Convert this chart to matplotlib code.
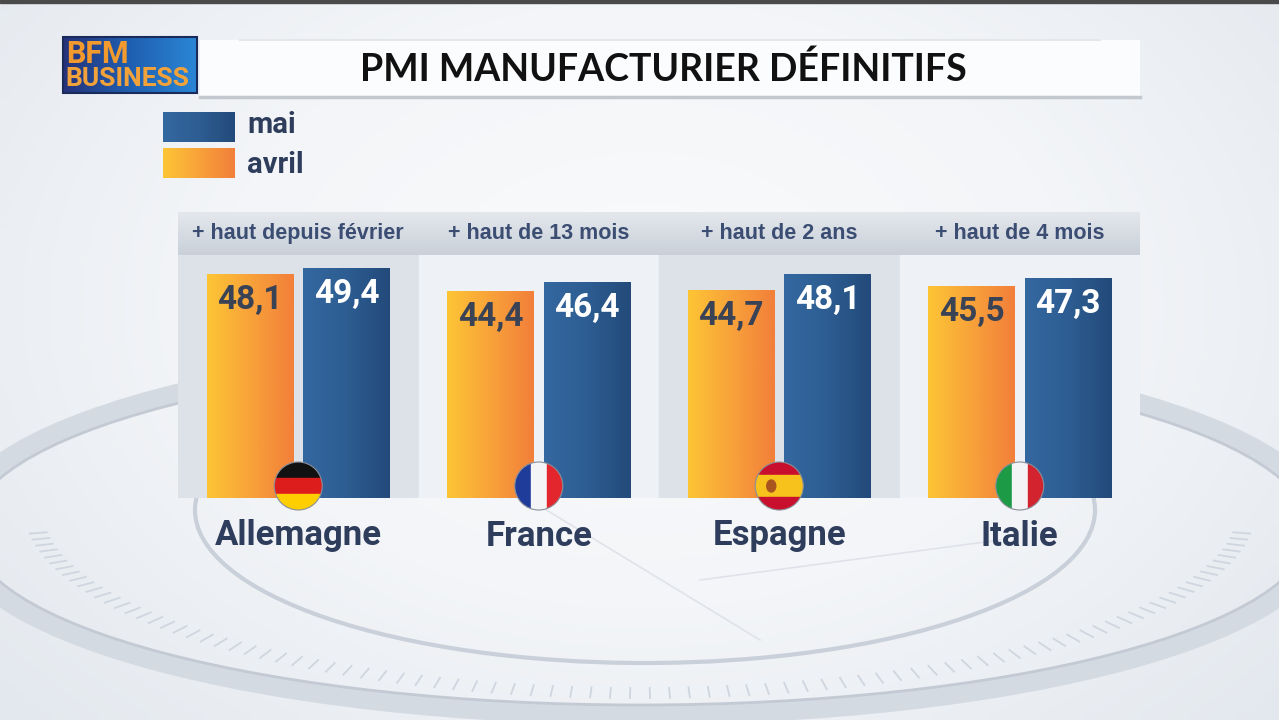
import numpy as np
import matplotlib.pyplot as plt
from matplotlib.patches import Rectangle, Circle, Ellipse
from matplotlib.colors import LinearSegmentedColormap

# donnees PMI manufacturier (avril / mai)
pays = ["Allemagne", "France", "Espagne", "Italie"]
avril = [48.1, 44.4, 44.7, 45.5]
mai = [49.4, 46.4, 48.1, 47.3]
avril_txt = ["48,1", "44,4", "44,7", "45,5"]
mai_txt = ["49,4", "46,4", "48,1", "47,3"]
commentaires = ["+ haut depuis février", "+ haut de 13 mois",
                "+ haut de 2 ans", "+ haut de 4 mois"]
flags = ["de", "fr", "es", "it"]

COND = ["Roboto", "DejaVu Sans"]
NAVY = "#2f3d5c"
PX = 4.66  # pixels par point d'indice

orange_cm = LinearSegmentedColormap.from_list("or", ["#fdc535", "#f8a23a", "#f27f3a"])
bleu_cm = LinearSegmentedColormap.from_list("bl", ["#3468a0", "#2d5d92", "#234a7a"])
grad = np.linspace(0, 1, 256).reshape(1, -1)

fig = plt.figure(figsize=(12.79, 7.2), dpi=100)

# fond en coordonnees pixels
bg = fig.add_axes([0, 0, 1, 1], zorder=0)
bg.set_xlim(0, 1279)
bg.set_ylim(720, 0)
bg.axis("off")
yy, xx = np.mgrid[0:72, 0:128]
rad = np.hypot((xx - 64) / 64, (yy - 30) / 45)
bg.imshow(rad, cmap=LinearSegmentedColormap.from_list("f", ["#fafbfc", "#f3f5f8", "#e3e8ee"]),
          extent=(0, 1279, 720, 0), aspect="auto", interpolation="bilinear")
bg.add_patch(Rectangle((0, 0), 1279, 3, color="#4a4a4a"))

# cadran decoratif
bg.add_patch(Ellipse((640, 530), 1370, 370, fill=False, lw=14, ec="#d4dae2"))
bg.add_patch(Ellipse((640, 530), 1340, 350, fill=False, lw=2, ec="#c3cad4"))
bg.add_patch(Ellipse((645, 510), 900, 306, fill=False, lw=3, ec="#c9d0d9"))
for t in np.linspace(np.pi * 0.04, np.pi * 0.96, 90):
    x0, y0 = 640 + 615 * np.cos(t), 510 + 188 * np.sin(t)
    x1, y1 = 640 + 598 * np.cos(t), 510 + 178 * np.sin(t)
    bg.plot([x0, x1], [y0, y1], color="#d0d6df", lw=1.3)
bg.plot([530, 760], [500, 640], color="#dfe3e9", lw=1.2)
bg.plot([700, 1000], [580, 540], color="#dfe3e9", lw=1.2)

# bandeau titre
bg.add_patch(Rectangle((200, 40), 940, 56, color="#fbfcfd", ec="none"))
bg.plot([200, 1140], [97, 97], color="#c3c8cf", lw=2.5)
bg.plot([240, 1100], [40, 40], color="#e3e6ea", lw=1.5)
bg.text(663, 69, "PMI MANUFACTURIER DÉFINITIFS", ha="center", va="center",
        fontsize=27, fontweight="bold", family=["Lato", "DejaVu Sans"], color="#111111")

# logo
bg.imshow(grad, cmap=LinearSegmentedColormap.from_list("lg", ["#26327a", "#1f5fb0", "#2b86d6"]),
          extent=(63, 197, 93, 37), aspect="auto", zorder=2)
bg.add_patch(Rectangle((63, 37), 134, 56, fill=False, ec="#1a2a5a", lw=1.5, zorder=3))
bg.text(66, 54, "BFM", ha="left", va="center", fontsize=22, fontweight="bold",
        family=COND, color="#f29a2e", zorder=4)
bg.text(65, 79, "BUSINESS", ha="left", va="center", fontsize=19, fontweight="bold",
        family=COND, color="#f2a23a", zorder=4)

# legende
bg.imshow(grad, cmap=bleu_cm, extent=(163, 235, 142, 112), aspect="auto", zorder=2)
bg.imshow(grad, cmap=orange_cm, extent=(163, 235, 178, 148), aspect="auto", zorder=2)
bg.text(247, 125, "mai", ha="left", va="center", fontsize=21, fontweight="bold",
        family=COND, color=NAVY)
bg.text(247, 165, "avril", ha="left", va="center", fontsize=21, fontweight="bold",
        family=COND, color=NAVY)

# graphique
ax = fig.add_axes([178 / 1279, 1 - 498 / 720, 962 / 1279, 286 / 720], zorder=1)
ax.set_xlim(-0.5, 3.5)
ax.set_ylim(0, 286 / PX)
ax.axis("off")

haut_bande = 243 / PX
for i in range(4):
    c = "#dde2e9" if i % 2 == 0 else "#eef1f5"
    ax.add_patch(Rectangle((i - 0.5, 0), 1, haut_bande, color=c, zorder=0))
ax.imshow(np.linspace(0, 1, 64).reshape(-1, 1),
          cmap=LinearSegmentedColormap.from_list("h", ["#e4e8ed", "#c9d0d9"]),
          extent=(-0.5, 3.5, haut_bande, 286 / PX), aspect="auto", zorder=0.5)

x = np.arange(len(pays))
w = 0.36
b_av = ax.bar(x - 0.2, avril, w, color="#f8a23a", zorder=2)
b_mai = ax.bar(x + 0.2, mai, w, color="#2d5d92", zorder=2)

for bars, cm in [(b_av, orange_cm), (b_mai, bleu_cm)]:
    for b in bars:
        im = ax.imshow(grad, cmap=cm, aspect="auto", zorder=2.5,
                       extent=(b.get_x(), b.get_x() + b.get_width(), 0, b.get_height()))
        im.set_clip_path(b)

for i in range(4):
    ax.annotate(avril_txt[i], (x[i] - 0.2, avril[i]), xytext=(0, -19),
                textcoords="offset points", ha="center", va="center",
                fontsize=24, fontweight="bold", family=COND, color="#3a4255", zorder=3)
    ax.annotate(mai_txt[i], (x[i] + 0.2, mai[i]), xytext=(0, -19),
                textcoords="offset points", ha="center", va="center",
                fontsize=24, fontweight="bold", family=COND, color="white", zorder=3)
    ax.text(x[i], 265 / PX, commentaires[i], ha="center", va="center",
            fontsize=15.5, fontweight="bold", family=["Liberation Sans", "DejaVu Sans"],
            color="#3b4d72", zorder=3)
    ax.text(x[i], -38 / PX, pays[i], ha="center", va="center",
            fontsize=25, fontweight="bold", family=COND, color=NAVY,
            clip_on=False, zorder=3)

# drapeaux ronds au pied des barres
top = fig.add_axes([0, 0, 1, 1], zorder=2)
top.set_xlim(0, 1279)
top.set_ylim(720, 0)
top.axis("off")
r = 24
for i, f in enumerate(flags):
    disp = ax.transData.transform((x[i], 0))
    cx, _ = top.transData.inverted().transform(disp)
    cy = 486
    clip = Circle((cx, cy), r, transform=top.transData)
    if f == "de":
        bandes = [("h", "#111111", 0, 1 / 3), ("h", "#dd1c1c", 1 / 3, 2 / 3), ("h", "#ffce00", 2 / 3, 1)]
    elif f == "es":
        bandes = [("h", "#c8102e", 0, 0.27), ("h", "#f7c21b", 0.27, 0.73), ("h", "#c8102e", 0.73, 1)]
    elif f == "fr":
        bandes = [("v", "#1f3c9a", 0, 1 / 3), ("v", "#f4f4f6", 1 / 3, 2 / 3), ("v", "#e3262d", 2 / 3, 1)]
    else:
        bandes = [("v", "#1c9a46", 0, 1 / 3), ("v", "#f4f4f6", 1 / 3, 2 / 3), ("v", "#d2232e", 2 / 3, 1)]
    for sens, col, a0, a1 in bandes:
        if sens == "h":
            p = Rectangle((cx - r, cy - r + 2 * r * a0), 2 * r, 2 * r * (a1 - a0), color=col)
        else:
            p = Rectangle((cx - r + 2 * r * a0, cy - r), 2 * r * (a1 - a0), 2 * r, color=col)
        top.add_patch(p)
        p.set_clip_path(clip)
    if f == "es":
        top.add_patch(Ellipse((cx - 8, cy), 9, 12, color="#a8551f"))
    top.add_patch(Circle((cx, cy), r, fill=False, ec="#8a8f99", lw=0.8))

fig.savefig("out.png", dpi=100)
